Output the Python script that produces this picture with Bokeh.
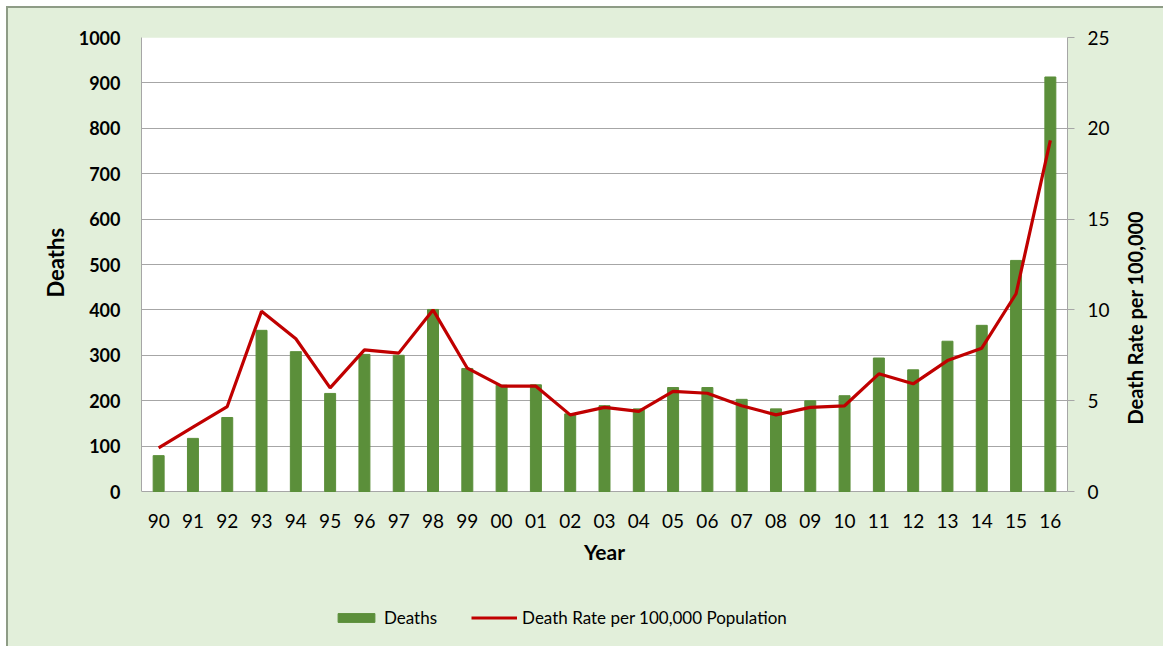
from bokeh.plotting import figure
from bokeh.layouts import row
from bokeh.models import (ColumnDataSource, FactorRange, Range1d, LinearAxis,
                          FixedTicker, Legend, LegendItem, Title)
from bokeh.core.properties import value
from bokeh.embed import file_html
from bokeh.resources import INLINE

years = ["90", "91", "92", "93", "94", "95", "96", "97", "98", "99",
         "00", "01", "02", "03", "04", "05", "06", "07", "08", "09",
         "10", "11", "12", "13", "14", "15", "16"]
deaths = [79, 117, 163, 355, 308, 216, 302, 300, 401, 271,
          234, 235, 171, 189, 182, 229, 229, 203, 182, 200,
          211, 294, 268, 331, 366, 509, 913]
death_rate = [2.4, 3.54, 4.68, 9.93, 8.41, 5.71, 7.80, 7.62, 10.0, 6.79,
              5.80, 5.80, 4.22, 4.63, 4.41, 5.51, 5.41, 4.72, 4.22, 4.63,
              4.72, 6.48, 5.93, 7.21, 7.89, 10.89, 19.33]
left_ticks = list(range(0, 1001, 100))
right_ticks = [0, 5, 10, 15, 20, 25]
x_title = "Year"
y_title = "Deaths"
y2_title = "Death Rate per 100,000"

FONT = "Lato"
BG = "#E2EFDA"
EDGE = "#8E9C86"
GRID = "#A6A6A6"
BAR = "#5B8F3A"
LINE = "#C00000"

# layout (pixels): plot area top / bottom, frame bottom (frame also holds the legend)
H = 646
TOP, PLOT_BOTTOM, FRAME_BOTTOM = 37, 491, 640
ext = (FRAME_BOTTOM - PLOT_BOTTOM) / (PLOT_BOTTOM - TOP)
ymax, y2max = left_ticks[-1], right_ticks[-1]

src = ColumnDataSource(dict(year=years, deaths=deaths, rate=death_rate))

p = figure(width=1115, height=H, x_range=FactorRange(factors=years),
           y_range=Range1d(-ymax * ext, ymax), output_backend="svg", toolbar_location=None,
           min_border_left=141, min_border_right=48, min_border_top=TOP,
           min_border_bottom=H - FRAME_BOTTOM)
p.x_range.range_padding = 0
p.background_fill_color = BG
p.border_fill_alpha = 0
p.outline_line_color = None
p.styles = {
    "background": (f"linear-gradient({BG},{BG}) 8px 8px / 100% 100% no-repeat, "
                   f"linear-gradient({EDGE},{EDGE}) 6px 6px / 100% 100% no-repeat, white"),
}
p.extra_y_ranges = {"rate": Range1d(-y2max * ext, y2max)}

# white plot area
p.quad(left=[0], right=[len(years)], bottom=[0], top=[ymax],
       fill_color="white", line_color=None, level="image")

bars = p.vbar(x="year", top="deaths", width=0.32, source=src,
              fill_color=BAR, line_color=BAR)
line = p.line(x="year", y="rate", source=src, y_range_name="rate",
              line_color=LINE, line_width=3.2)

# grid
p.xgrid.grid_line_color = None
p.ygrid.grid_line_color = GRID
p.ygrid.ticker = FixedTicker(ticks=left_ticks)

# left axis
la = p.yaxis[0]
la.ticker = FixedTicker(ticks=left_ticks)
la.bounds = (0, ymax)
la.axis_line_color = GRID
la.major_tick_line_color = None
la.minor_tick_line_color = None
la.major_tick_out = 0
la.major_tick_in = 0
la.major_label_standoff = 21
la.major_label_text_font = FONT
la.major_label_text_font_style = "bold"
la.major_label_text_font_size = "18px"
la.major_label_text_color = "black"
# axis title centred on the plot area (not on the taller frame)
p.add_layout(Title(text=y_title, align="left", offset=FRAME_BOTTOM - 297,
                   text_font=FONT, text_font_size="22px", text_font_style="bold",
                   text_color="black", standoff=14), "left")

# right axis
ra = LinearAxis(y_range_name="rate", ticker=FixedTicker(ticks=right_ticks))
ra.bounds = (0, y2max)
ra.axis_line_color = GRID
ra.major_tick_line_color = GRID
ra.major_tick_out = 7
ra.major_tick_in = 0
ra.minor_tick_line_color = None
ra.major_label_standoff = 13
ra.major_label_text_font = FONT
ra.major_label_text_font_size = "19px"
ra.major_label_text_color = "black"
p.add_layout(ra, "right")

# x axis: category labels drawn at the foot of the plot area
p.xaxis.visible = False
p.text(x="year", y=0, text="year", source=src, y_offset=22,
       text_align="center", text_baseline="top", text_font=value(FONT),
       text_font_size="19px", text_color="black")
p.text(x=[len(years) / 2], y=[0], text=[x_title], y_offset=47,
       text_align="center", text_baseline="top", text_font=value(FONT),
       text_font_size="21px", text_font_style="bold", text_color="black")

legend = Legend(items=[LegendItem(label="Deaths", renderers=[bars]),
                       LegendItem(label="Death Rate per 100,000 Population", renderers=[line])],
                orientation="horizontal", location=(192, 12),
                background_fill_alpha=0, border_line_color=None,
                label_text_font=FONT, label_text_font_size="17px",
                label_text_color="black", glyph_width=46, glyph_height=11,
                label_standoff=5, spacing=34, padding=0, margin=0)
p.add_layout(legend, "center")

# narrow companion panel holding the right-hand axis title (reads bottom to top)
p2 = figure(width=48, height=H, x_range=Range1d(0, 1), y_range=Range1d(0, 1),
            output_backend="svg", toolbar_location=None,
            min_border_left=36, min_border_right=0, min_border_top=TOP,
            min_border_bottom=H - FRAME_BOTTOM)
p2.xaxis.visible = False
p2.yaxis.visible = False
p2.grid.visible = False
p2.outline_line_color = None
p2.background_fill_alpha = 0
p2.border_fill_alpha = 0
p2.styles = {
    "background": (f"linear-gradient({BG},{BG}) 0px 8px / 100% 100% no-repeat, "
                   f"linear-gradient({EDGE},{EDGE}) 0px 6px / 100% 100% no-repeat, white"),
}
p2.scatter(x=[], y=[])
p2.add_layout(Title(text=y2_title, align="left", offset=FRAME_BOTTOM - 424,
                    text_font=FONT, text_font_size="20px", text_font_style="bold",
                    text_color="black", standoff=10), "left")

layout = row(p, p2, spacing=0)
open("out.html", "w").write(file_html(layout, INLINE))
